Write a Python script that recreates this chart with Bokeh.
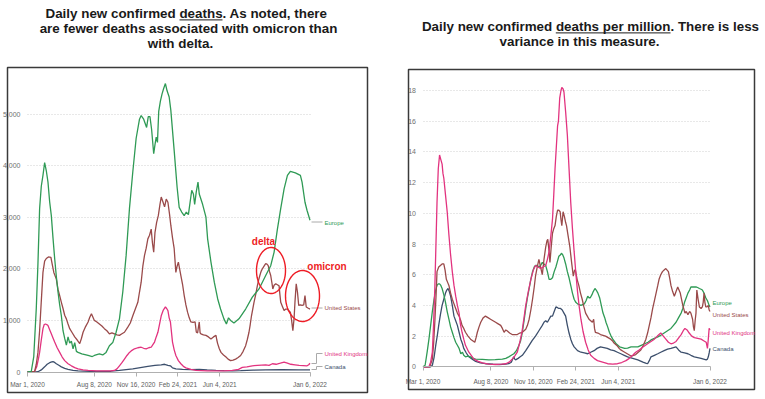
import numpy as np
import pandas as pd
from bokeh.plotting import figure
from bokeh.layouts import row
from bokeh.models import (Range1d, FixedTicker, NumeralTickFormatter, DatetimeTickFormatter,
                          Label, BoxAnnotation, PolyAnnotation, Arrow, Grid)
from bokeh.embed import file_html
from bokeh.resources import INLINE

BASE = pd.Timestamp("2020-03-01")
END = pd.Timestamp("2022-01-06")
tick_dates = ["2020-03-01", "2020-08-08", "2020-11-16", "2021-02-24", "2021-06-04", "2022-01-06"]
left_yticks = [0, 1000, 2000, 3000, 4000, 5000]
right_yticks = [0, 2, 4, 6, 8, 10, 12, 14, 16, 18]

# ---------------- Left chart: daily new confirmed deaths (7-day avg) ----------------
eu_d_day = [0, 9, 15, 21, 25, 29, 33, 37, 41, 45, 49, 53, 57, 61, 65, 69, 73, 77, 81, 85, 89, 93, 97, 101, 105, 109, 113, 117, 121, 130, 145, 155, 160, 172, 180, 188, 196, 204, 212, 220, 228, 236, 244, 252, 260, 268, 272, 278, 285, 289, 293, 297, 302, 305, 308, 311, 314, 318, 322, 326, 330, 334, 339, 343, 351, 358, 363, 369, 375, 380, 385, 393, 397, 400, 404, 408, 411, 419, 427, 431, 439, 447, 455, 462, 470, 476, 481, 486, 494, 506, 522, 538, 554, 570, 582, 590, 598, 606, 614, 622, 629, 641, 653, 657, 664, 669, 676]
eu_d_val = [0, 10, 300, 1230, 2100, 3170, 3600, 3810, 4060, 3900, 3680, 3300, 3030, 2600, 2200, 1850, 1550, 1300, 1090, 800, 650, 520, 680, 560, 600, 450, 570, 400, 380, 350, 320, 300, 320, 350, 330, 380, 510, 570, 770, 1030, 1550, 2260, 3170, 3880, 4530, 4900, 4970, 4900, 4740, 4950, 4950, 4700, 4230, 4400, 4550, 4450, 5050, 5250, 5390, 5500, 5590, 5450, 5330, 5070, 4290, 3580, 3190, 3100, 3030, 3100, 3050, 3520, 3450, 3250, 3500, 3680, 3450, 3250, 3000, 2580, 2130, 1740, 1420, 1220, 1030, 930, 1050, 1000, 950, 1030, 1220, 1450, 1610, 1870, 2060, 2320, 2770, 3170, 3550, 3810, 3890, 3860, 3810, 3680, 3290, 3130, 2940]

us_d_day = [0, 10, 17, 21, 25, 29, 32, 37, 41, 45, 50, 56, 60, 63, 69, 73, 77, 81, 85, 89, 93, 97, 101, 107, 113, 119, 125, 129, 133, 139, 145, 149, 153, 160, 166, 172, 178, 184, 190, 196, 202, 208, 214, 220, 226, 232, 240, 246, 252, 258, 264, 268, 272, 276, 280, 284, 288, 292, 296, 299, 302, 305, 309, 313, 317, 320, 324, 328, 332, 336, 340, 343, 347, 351, 355, 358, 361, 364, 367, 371, 375, 379, 383, 387, 391, 396, 401, 404, 407, 411, 413, 415, 421, 427, 433, 439, 445, 451, 453, 455, 459, 463, 469, 475, 480, 486, 492, 498, 504, 510, 516, 522, 526, 530, 533, 536, 539, 542, 546, 550, 553, 556, 559, 562, 566, 570, 573, 576, 579, 582, 585, 587, 590, 594, 598, 602, 604, 606, 610, 614, 618, 622, 626, 629, 632, 635, 638, 640, 643, 646, 649, 653, 657, 661, 664, 667, 671, 676]
us_d_val = [0, 0, 10, 150, 380, 800, 1230, 1930, 2150, 2200, 2230, 2220, 2050, 1930, 1800, 1600, 1480, 1350, 1230, 1100, 1030, 930, 840, 760, 680, 620, 550, 650, 770, 880, 970, 1060, 1130, 1000, 970, 930, 890, 840, 800, 740, 760, 740, 720, 710, 740, 770, 870, 950, 1090, 1220, 1350, 1550, 1740, 2050, 2260, 2400, 2580, 2650, 2770, 2500, 2320, 2700, 2900, 3030, 3250, 3390, 3300, 3200, 3350, 3290, 3050, 2840, 2600, 2390, 1930, 2050, 2130, 2000, 1870, 1700, 1480, 1300, 1160, 1050, 970, 960, 970, 770, 760, 970, 760, 740, 720, 710, 680, 640, 680, 710, 620, 550, 450, 380, 330, 290, 250, 220, 230, 250, 280, 320, 400, 510, 630, 770, 920, 1090, 1220, 1350, 1500, 1670, 1780, 1870, 1950, 2000, 2050, 2100, 2090, 2060, 1950, 1870, 1720, 1610, 1680, 1710, 1690, 1670, 1500, 1350, 1270, 1190, 1220, 1220, 1180, 1160, 1000, 800, 1050, 1350, 1710, 1550, 1290, 1300, 1290, 1300, 1480, 1260, 1240, 1220]

uk_d_day = [0, 14, 17, 22, 26, 29, 33, 37, 40, 43, 46, 49, 53, 57, 61, 65, 71, 77, 83, 89, 97, 105, 113, 121, 133, 145, 165, 184, 200, 208, 214, 220, 226, 232, 238, 244, 250, 256, 264, 272, 278, 284, 290, 296, 300, 304, 308, 312, 316, 320, 325, 330, 333, 336, 339, 342, 347, 351, 355, 361, 367, 373, 379, 391, 403, 430, 451, 470, 490, 505, 514, 525, 538, 550, 560, 570, 578, 586, 595, 605, 614, 622, 630, 640, 650, 660, 669, 673, 676]
uk_d_val = [0, 0, 10, 100, 250, 380, 620, 840, 920, 930, 920, 900, 820, 740, 660, 580, 470, 380, 290, 220, 160, 120, 85, 60, 40, 30, 22, 20, 22, 30, 60, 120, 180, 250, 320, 380, 420, 450, 470, 480, 460, 450, 470, 480, 530, 580, 680, 770, 930, 1090, 1200, 1260, 1230, 1190, 1050, 970, 580, 430, 320, 220, 160, 110, 80, 50, 30, 20, 20, 22, 30, 50, 90, 100, 120, 130, 135, 140, 130, 160, 150, 170, 190, 170, 150, 140, 130, 125, 120, 140, 170]

ca_d_day = [0, 20, 25, 33, 41, 47, 53, 58, 61, 65, 69, 75, 81, 89, 97, 109, 121, 150, 184, 200, 220, 236, 252, 270, 288, 305, 320, 328, 336, 342, 347, 355, 371, 390, 411, 430, 451, 470, 490, 510, 540, 570, 610, 649, 676]
ca_d_val = [0, 0, 5, 40, 100, 150, 180, 195, 200, 185, 160, 130, 100, 70, 50, 30, 20, 12, 10, 15, 30, 45, 60, 85, 110, 130, 140, 150, 130, 120, 80, 60, 50, 45, 50, 40, 30, 25, 20, 25, 35, 40, 45, 40, 40]

# ---------------- Right chart: daily new confirmed deaths per million ----------------
eu_m_day = [0, 5, 10, 14, 18, 22, 26, 30, 33, 36, 39, 42, 45, 49, 53, 57, 61, 65, 69, 73, 77, 81, 85, 89, 93, 96, 100, 106, 112, 118, 124, 140, 155, 170, 187, 195, 202, 208, 214, 220, 226, 230, 234, 238, 242, 246, 250, 254, 258, 262, 265, 269, 273, 277, 281, 285, 289, 293, 297, 301, 305, 309, 313, 317, 320, 324, 326, 329, 332, 336, 340, 344, 348, 352, 356, 360, 364, 368, 372, 376, 380, 384, 388, 391, 394, 398, 401, 405, 408, 412, 416, 420, 424, 428, 431, 435, 439, 443, 447, 451, 455, 459, 463, 469, 475, 482, 490, 498, 506, 514, 522, 530, 537, 545, 553, 560, 568, 576, 584, 590, 596, 602, 608, 612, 616, 620, 624, 628, 631, 637, 643, 648, 651, 655, 658, 662, 666, 670, 674, 676]
eu_m_val = [0, 0.1, 1.0, 1.8, 2.7, 3.6, 4.4, 5.0, 5.3, 5.4, 5.4, 5.3, 5.1, 4.7, 4.2, 3.6, 3.1, 2.6, 2.25, 1.9, 1.6, 1.4, 1.2, 0.85, 0.95, 0.75, 0.65, 0.7, 0.65, 0.55, 0.5, 0.48, 0.45, 0.47, 0.5, 0.55, 0.65, 0.75, 0.85, 1.05, 1.4, 1.7, 2.25, 3.0, 3.8, 4.5, 5.1, 5.7, 6.2, 6.5, 6.6, 6.6, 6.5, 6.6, 6.8, 6.7, 6.6, 6.2, 5.7, 5.7, 5.8, 6.2, 6.5, 6.9, 7.2, 7.3, 7.4, 7.3, 7.1, 6.7, 6.2, 5.8, 5.3, 4.8, 4.4, 4.2, 4.1, 4.05, 4.0, 4.05, 4.1, 4.3, 4.6, 4.5, 4.5, 4.7, 4.9, 5.1, 5.0, 4.8, 4.5, 4.0, 3.5, 3.2, 2.9, 2.6, 2.25, 2.0, 1.8, 1.65, 1.5, 1.4, 1.3, 1.25, 1.2, 1.22, 1.3, 1.3, 1.3, 1.4, 1.5, 1.6, 1.75, 1.85, 1.95, 2.05, 2.2, 2.35, 2.5, 2.7, 2.9, 3.2, 3.5, 3.8, 4.2, 4.5, 4.8, 5.0, 5.2, 5.2, 5.2, 5.15, 5.1, 5.05, 5.0, 4.8, 4.5, 4.3, 4.0, 3.9]

us_m_day = [0, 16, 22, 25, 28, 31, 33, 37, 41, 45, 49, 52, 55, 58, 61, 65, 69, 73, 77, 81, 85, 89, 92, 96, 100, 106, 112, 117, 122, 125, 128, 132, 136, 142, 147, 153, 159, 165, 171, 177, 183, 187, 191, 195, 198, 204, 210, 216, 222, 228, 234, 238, 242, 246, 250, 254, 258, 262, 265, 269, 273, 277, 281, 285, 289, 292, 294, 297, 299, 302, 305, 308, 311, 314, 317, 320, 323, 325, 327, 330, 333, 336, 338, 342, 346, 350, 354, 357, 359, 363, 367, 371, 375, 379, 383, 387, 391, 395, 399, 402, 404, 406, 412, 418, 424, 430, 436, 442, 446, 450, 454, 458, 462, 466, 472, 478, 484, 490, 496, 501, 507, 513, 519, 525, 529, 533, 537, 541, 545, 549, 553, 556, 560, 564, 568, 572, 575, 578, 581, 584, 588, 592, 596, 600, 603, 606, 609, 612, 617, 620, 624, 628, 631, 635, 637, 639, 641, 643, 645, 648, 651, 655, 658, 660, 662, 664, 666, 669, 672, 674, 676]
us_m_val = [0, 0, 0.5, 1.5, 3.0, 4.8, 6.2, 6.5, 6.6, 6.7, 6.7, 6.3, 5.7, 5.5, 5.3, 4.8, 4.4, 4.1, 3.8, 3.5, 3.3, 3.0, 2.7, 2.5, 2.25, 2.0, 1.8, 1.7, 1.6, 1.9, 2.25, 2.6, 2.9, 3.2, 3.3, 3.2, 3.1, 3.0, 2.9, 2.8, 2.7, 2.5, 2.25, 2.4, 2.35, 2.2, 2.1, 2.1, 2.1, 2.2, 2.25, 2.35, 2.45, 2.7, 3.1, 3.7, 4.4, 5.2, 5.9, 6.5, 7.0, 6.5, 6.0, 7.0, 7.8, 8.2, 8.3, 7.5, 6.8, 7.8, 8.7, 9.0, 9.2, 9.8, 10.2, 10.2, 10.1, 9.6, 9.2, 10.1, 9.8, 9.4, 9.2, 8.5, 7.8, 6.8, 5.9, 6.3, 6.3, 5.7, 5.3, 4.8, 4.4, 3.9, 3.5, 3.3, 3.1, 3.0, 2.9, 3.1, 2.5, 2.25, 2.2, 2.1, 2.05, 2.0, 1.9, 1.8, 1.7, 1.55, 1.45, 1.35, 1.2, 1.1, 1.0, 0.9, 0.8, 0.7, 0.75, 0.8, 0.95, 1.1, 1.4, 1.8, 2.2, 2.7, 3.2, 3.8, 4.3, 4.8, 5.3, 5.7, 6.0, 6.2, 6.3, 6.4, 6.3, 6.2, 5.8, 5.3, 4.9, 4.6, 4.9, 5.2, 5.0, 4.8, 4.4, 4.0, 3.5, 3.6, 3.4, 3.6, 3.5, 3.1, 2.6, 2.35, 3.0, 3.5, 5.0, 4.4, 3.9, 3.8, 3.9, 4.2, 4.8, 4.2, 3.9, 3.9, 4.0, 3.7, 3.6]

uk_m_day = [0, 14, 18, 22, 25, 28, 31, 33, 36, 39, 42, 45, 47, 49, 53, 57, 61, 65, 69, 73, 77, 81, 85, 88, 92, 96, 100, 108, 120, 130, 140, 155, 171, 185, 195, 203, 210, 216, 222, 228, 233, 238, 242, 248, 254, 260, 265, 271, 277, 283, 289, 293, 297, 301, 305, 308, 311, 314, 317, 319, 322, 325, 327, 330, 332, 336, 340, 344, 348, 352, 356, 360, 364, 368, 372, 377, 383, 389, 395, 403, 411, 423, 435, 447, 458, 468, 478, 486, 494, 501, 509, 519, 529, 537, 545, 552, 560, 566, 572, 578, 584, 590, 596, 600, 604, 608, 613, 617, 622, 627, 633, 639, 647, 655, 661, 667, 670, 672, 674, 676]
uk_m_val = [0, 0, 0.3, 0.95, 2.8, 5.3, 8.5, 10.7, 12.9, 13.8, 13.5, 13.2, 12.6, 12.3, 11.2, 10.1, 8.6, 7.3, 6.2, 5.3, 4.6, 4.0, 3.5, 2.8, 2.25, 1.8, 1.4, 0.95, 0.5, 0.35, 0.25, 0.18, 0.15, 0.17, 0.2, 0.3, 0.5, 0.7, 0.95, 1.6, 2.25, 3.2, 4.0, 4.9, 5.7, 6.3, 6.6, 6.5, 6.4, 6.5, 6.6, 7.0, 7.5, 8.5, 9.6, 11.2, 12.9, 14.3, 15.7, 16.0, 17.5, 18.0, 18.2, 18.1, 17.9, 16.6, 15.1, 12.9, 10.7, 9.0, 7.5, 6.1, 4.9, 3.9, 3.1, 2.3, 1.6, 1.1, 0.75, 0.55, 0.4, 0.3, 0.2, 0.18, 0.2, 0.28, 0.4, 0.55, 0.75, 0.95, 1.1, 1.3, 1.5, 1.65, 1.8, 2.0, 2.2, 2.0, 1.8, 1.6, 1.5, 1.55, 1.65, 1.8, 1.95, 2.1, 2.35, 2.5, 2.4, 2.2, 2.0, 1.9, 1.85, 1.8, 1.7, 1.6, 1.2, 1.8, 2.5, 2.4]

ca_m_day = [0, 18, 22, 26, 30, 34, 37, 41, 45, 49, 53, 56, 59, 62, 65, 69, 73, 77, 81, 85, 89, 93, 96, 102, 108, 116, 124, 135, 147, 165, 179, 195, 202, 208, 212, 214, 216, 218, 224, 229, 234, 242, 250, 257, 265, 273, 281, 285, 289, 293, 297, 301, 305, 309, 313, 317, 320, 324, 328, 332, 336, 340, 344, 348, 352, 356, 364, 372, 380, 388, 395, 403, 410, 418, 426, 434, 442, 450, 458, 466, 474, 482, 494, 506, 518, 526, 529, 533, 537, 545, 553, 560, 568, 576, 584, 590, 596, 602, 608, 616, 624, 631, 639, 647, 655, 661, 667, 670, 672, 674, 676]
ca_m_val = [0, 0, 0.1, 0.6, 1.4, 2.1, 2.7, 3.4, 4.0, 4.4, 4.8, 5.0, 5.1, 4.9, 4.6, 4.0, 3.3, 3.0, 2.7, 2.25, 1.8, 1.5, 1.2, 0.9, 0.65, 0.5, 0.35, 0.25, 0.2, 0.17, 0.15, 0.17, 0.2, 0.3, 0.55, 0.65, 0.5, 0.45, 0.55, 0.65, 0.75, 1.05, 1.4, 1.7, 2.0, 2.35, 2.7, 2.9, 3.0, 2.9, 3.1, 3.3, 3.3, 3.6, 3.9, 3.85, 3.8, 3.8, 3.7, 3.5, 3.3, 2.7, 2.2, 1.8, 1.5, 1.3, 1.05, 0.95, 0.9, 0.85, 0.95, 1.05, 1.2, 1.3, 1.25, 1.2, 1.1, 1.05, 0.95, 0.85, 0.75, 0.65, 0.55, 0.45, 0.3, 0.22, 0.2, 0.4, 0.65, 0.75, 0.85, 0.95, 1.05, 1.15, 1.2, 1.25, 1.3, 1.1, 0.95, 0.9, 0.85, 0.75, 0.65, 0.6, 0.55, 0.5, 0.45, 0.5, 0.65, 0.9, 1.2]

COLORS = {"Europe": "#2f9a55", "United States": "#9a4a4a", "United Kingdom": "#e2337f", "Canada": "#3c4f6c"}
NARROW = "'Liberation Sans Narrow', 'Liberation Sans', Arial, sans-serif"
TITLE_FONT = "'Liberation Sans', Arial, sans-serif"
RED = "#ee1c25"
HAS_CROSS = "cross_bounds" in Grid.properties()
FIG_H = 399


def to_dates(days):
    return BASE + pd.to_timedelta(np.asarray(days), unit="D")


def ms(d):
    return pd.Timestamp(d).timestamp() * 1000.0


def make_fig(fig_x0, fig_x1, base_px, end_px, zero_px, px_per_unit, yticks, fmt, xstandoff):
    # the frame fills the whole figure; axes are pinned inside it with fixed_location
    ppd = (end_px - base_px) / (END - BASE).days
    xr = Range1d(BASE - pd.Timedelta(days=(base_px - fig_x0) / ppd),
                 END + pd.Timedelta(days=(fig_x1 - end_px) / ppd))
    yr = Range1d(-(FIG_H - zero_px) / px_per_unit, zero_px / px_per_unit)
    p = figure(width=int(fig_x1 - fig_x0), height=FIG_H, x_axis_type="datetime",
               output_backend="svg", toolbar_location=None, title=None, x_range=xr, y_range=yr,
               min_border=0)
    p.min_border_left = p.min_border_right = p.min_border_top = p.min_border_bottom = 0
    p.outline_line_color = None
    p.background_fill_color = "white"
    p.border_fill_color = "white"
    p.xgrid.visible = False
    if HAS_CROSS:
        p.ygrid.cross_bounds = (ms(BASE), ms(END))
        p.ygrid.grid_line_color = "#d0d0d0"
        p.ygrid.grid_line_dash = "1 2"
    else:
        p.ygrid.visible = False
        n = len(yticks)
        p.segment(x0=[BASE] * n, x1=[END] * n, y0=yticks, y1=yticks,
                  line_color="#d0d0d0", line_dash="1 2", line_width=1)
    p.yaxis.fixed_location = ms(BASE)
    p.yaxis.ticker = FixedTicker(ticks=yticks)
    p.yaxis.formatter = NumeralTickFormatter(format=fmt)
    p.yaxis.axis_line_color = None
    p.yaxis.major_tick_line_color = None
    p.yaxis.minor_tick_line_color = None
    p.yaxis.major_label_text_font = NARROW
    p.yaxis.major_label_text_font_size = "7px"
    p.yaxis.major_label_text_color = "#707070"
    p.yaxis.major_label_standoff = 1
    p.xaxis.fixed_location = 0
    p.xaxis.bounds = (ms(BASE), ms(END))
    p.xaxis.ticker = FixedTicker(ticks=[ms(d) for d in tick_dates])
    f = "%b %-d, %Y"
    p.xaxis.formatter = DatetimeTickFormatter(microseconds=f, milliseconds=f, seconds=f, minsec=f,
                                              minutes=f, hourmin=f, hours=f, days=f, months=f, years=f)
    p.xaxis.axis_line_color = "#b0b0b0"
    p.xaxis.major_tick_line_color = "#b0b0b0"
    p.xaxis.major_tick_in = 0
    p.xaxis.major_tick_out = 4
    p.xaxis.minor_tick_line_color = None
    p.xaxis.major_label_text_font = NARROW
    p.xaxis.major_label_text_font_size = "6.5px"
    p.xaxis.major_label_text_color = "#606060"
    p.xaxis.major_label_standoff = xstandoff
    return p


class Page:
    """Screen-unit helper: page pixel coords -> frame-relative screen units."""
    def __init__(self, p, fx):
        self.p, self.fx, self.fy = p, fx, FIG_H

    def label(self, x, y, text, **kw):
        self.p.add_layout(Label(x=x - self.fx, y=self.fy - y, x_units="screen", y_units="screen",
                                text=text, **kw))

    def seg(self, x0, y0, x1, y1, color="#aaaaaa", w=1.0):
        self.p.add_layout(Arrow(x_start=x0 - self.fx, y_start=self.fy - y0, x_end=x1 - self.fx,
                                y_end=self.fy - y1, start_units="screen", end_units="screen",
                                start=None, end=None, line_color=color, line_width=w, line_alpha=1))

    def box(self, x0, y0, x1, y1):
        self.p.add_layout(BoxAnnotation(left=x0 - self.fx, right=x1 - self.fx, top=self.fy - y0,
                                        bottom=self.fy - y1, left_units="screen", right_units="screen",
                                        top_units="screen", bottom_units="screen", fill_alpha=0,
                                        line_color="#3a3a3a", line_alpha=1, line_width=1.5))

    def ellipse(self, cx, cy, rx, ry, color):
        t = np.linspace(0, 2 * np.pi, 72)
        xs = list(cx + rx * np.cos(t) - self.fx)
        ys = list(self.fy - (cy + ry * np.sin(t)))
        self.p.add_layout(PolyAnnotation(xs=xs, ys=ys, xs_units="screen", ys_units="screen",
                                         fill_alpha=0, line_color=color, line_alpha=1, line_width=1.4))


title_kw = dict(text_font=TITLE_FONT, text_font_style="bold", text_font_size="13.4px",
                text_color="#1a1a1a", text_align="center", text_baseline="middle")
lab_kw = dict(text_font=NARROW, text_font_size="6px", text_baseline="middle", text_align="left")
red_kw = dict(text_font=TITLE_FONT, text_font_style="bold", text_font_size="10px",
              text_color=RED, text_align="center", text_baseline="middle")

# ---------------- Left figure (page x 0..388) ----------------
pl = make_fig(0, 388, 27, 309.5, 371.5, 51.6 / 1000, left_yticks, "0,0", 5)
for name, d, v in [("Canada", ca_d_day, ca_d_val), ("United Kingdom", uk_d_day, uk_d_val),
                   ("United States", us_d_day, us_d_val), ("Europe", eu_d_day, eu_d_val)]:
    pl.line(to_dates(d), v, line_color=COLORS[name], line_width=1.3)

L = Page(pl, 0)
L.box(7, 67, 367, 392)
L.label(186, 12.6, "Daily new confirmed deaths. As noted, there", **title_kw)
L.label(188, 28.1, "are fewer deaths associated with omicron than", **title_kw)
L.label(180, 43.4, "with delta.", **title_kw)
L.seg(179, 19.4, 222, 19.4, color="#1a1a1a", w=1)

L.label(324, 222, "Europe", text_color=COLORS["Europe"], **lab_kw)
L.label(324, 307.5, "United States", text_color=COLORS["United States"], **lab_kw)
L.label(324, 353, "United Kingdom", text_color=COLORS["United Kingdom"], **lab_kw)
L.label(324, 366, "Canada", text_color=COLORS["Canada"], **lab_kw)
L.seg(311, 221.5, 322, 221.5)
L.seg(311, 307.5, 322, 307.5)
L.seg(311, 363, 316, 363)
L.seg(316, 363, 316, 353)
L.seg(316, 353, 322, 353)
L.seg(311, 369, 316, 369)
L.seg(316, 369, 316, 366)
L.seg(316, 366, 322, 366)

L.ellipse(270.5, 270, 14.5, 23, RED)
L.ellipse(302, 295.5, 17, 25.5, RED)
L.label(263, 241, "delta", **red_kw)
L.label(326.5, 266, "omicron", **red_kw)

# ---------------- Right figure (page x 388..765) ----------------
pr = make_fig(388, 765, 422.5, 709.5, 366.3, 15.35, right_yticks, "0", 7)
for name, d, v in [("Canada", ca_m_day, ca_m_val), ("Europe", eu_m_day, eu_m_val),
                   ("United States", us_m_day, us_m_val), ("United Kingdom", uk_m_day, uk_m_val)]:
    pr.line(to_dates(d), v, line_color=COLORS[name], line_width=1.3)

R = Page(pr, 388)
R.box(408, 69, 754, 389)
R.label(590, 26.2, "Daily new confirmed deaths per million. There is less", **title_kw)
R.label(579, 40.7, "variance in this measure.", **title_kw)
R.seg(555.3, 32.4, 670, 32.4, color="#1a1a1a", w=1)

R.label(712, 302, "Europe", text_color=COLORS["Europe"], **lab_kw)
R.label(712, 314, "United States", text_color=COLORS["United States"], **lab_kw)
R.label(712, 332, "United Kingdom", text_color=COLORS["United Kingdom"], **lab_kw)
R.label(712, 348, "Canada", text_color=COLORS["Canada"], **lab_kw)

layout = row(pl, pr)
open("out.html", "w").write(file_html(layout, INLINE))
